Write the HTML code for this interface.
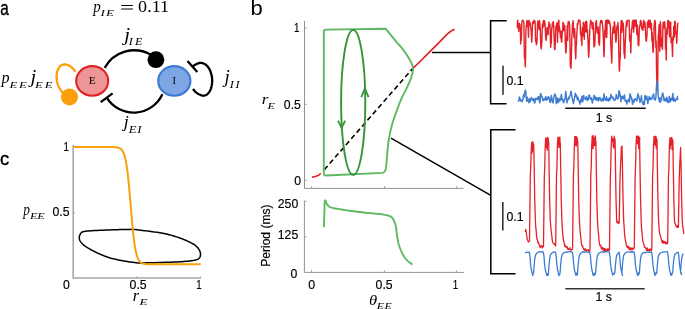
<!DOCTYPE html>
<html><head><meta charset="utf-8"><style>
html,body{margin:0;padding:0;background:#fff;overflow:hidden;}
svg{display:block;}
text{white-space:pre;}
</style></head><body>
<svg style="will-change:transform" width="685" height="309" viewBox="0 0 685 309">
<rect width="685" height="309" fill="#fff"/>
<text transform="translate(0.25,14.80) scale(0.771,1)" font-family="'Liberation Sans', sans-serif" font-size="19.91" fill="#000" stroke="#000" stroke-width="0.4">a</text>
<text transform="translate(250.57,14.69) scale(1.064,1)" font-family="'Liberation Sans', sans-serif" font-size="20.68" fill="#000">b</text>
<text transform="translate(0.12,164.91) scale(0.958,1)" font-family="'Liberation Sans', sans-serif" font-size="19.18" fill="#000" stroke="#000" stroke-width="0.4">c</text>
<text transform="translate(93.26,11.81) scale(0.913,1)" font-family="'Liberation Serif', serif" font-style="italic" font-size="16.41" fill="#000">p</text>
<text transform="translate(100.57,15.90) scale(1.450,1)" font-family="'Liberation Serif', serif" font-style="italic" font-size="9.16" fill="#000" letter-spacing="0.63">IE</text>
<path d="M121.2,5.5 H132.9 M121.2,9.0 H132.9" stroke="#000" stroke-width="1.0" fill="none" />
<text transform="translate(138.12,11.75) scale(1.098,1)" font-family="'Liberation Serif', serif" font-size="16.47" fill="#000">0.11</text>
<path d="M104.70,67.90 A33.63,33.63 0 0 1 150.50,54.50" stroke="#000" stroke-width="2.3" fill="none" />
<circle cx="155.9" cy="59.7" r="8.4" fill="#000"/>
<path d="M106.70,97.60 A31.68,31.68 0 0 0 162.40,94.20" stroke="#000" stroke-width="2.3" fill="none" />
<path d="M100.7,102.1 L112.6,93.3" stroke="#000" stroke-width="2.3" fill="none" />
<path d="M191.90,67.00 L192.26,66.76 L192.75,66.42 L193.33,66.01 L193.97,65.57 L194.65,65.12 L195.34,64.69 L195.99,64.30 L196.60,64.00 L197.16,63.75 L197.70,63.52 L198.24,63.31 L198.78,63.13 L199.31,62.99 L199.86,62.91 L200.42,62.87 L201.00,62.90 L201.61,62.98 L202.25,63.11 L202.91,63.29 L203.57,63.52 L204.23,63.80 L204.88,64.14 L205.51,64.54 L206.10,65.00 L206.67,65.53 L207.24,66.11 L207.80,66.76 L208.34,67.47 L208.86,68.23 L209.35,69.04 L209.79,69.90 L210.20,70.80 L210.57,71.78 L210.92,72.84 L211.24,73.96 L211.53,75.13 L211.78,76.32 L211.97,77.51 L212.12,78.68 L212.20,79.80 L212.22,80.91 L212.17,82.04 L212.06,83.17 L211.91,84.29 L211.72,85.38 L211.50,86.42 L211.26,87.40 L211.00,88.30 L210.72,89.13 L210.40,89.90 L210.06,90.62 L209.68,91.29 L209.28,91.91 L208.87,92.49 L208.44,93.02 L208.00,93.50 L207.54,93.94 L207.06,94.34 L206.56,94.69 L206.04,95.00 L205.51,95.26 L204.97,95.46 L204.43,95.61 L203.90,95.70 L203.36,95.72 L202.80,95.66 L202.24,95.55 L201.67,95.38 L201.10,95.18 L200.55,94.96 L200.01,94.73 L199.50,94.50 L199.01,94.27 L198.53,94.02 L198.07,93.76 L197.61,93.48 L197.17,93.18 L196.74,92.86 L196.32,92.54 L195.90,92.20 L195.48,91.82 L195.04,91.39 L194.60,90.93 L194.18,90.46 L193.78,90.01 L193.43,89.60 L193.13,89.25 L192.90,89.00" stroke="#000" stroke-width="2.3" fill="none" />
<path d="M187.5,61.1 L197.3,72.0" stroke="#000" stroke-width="2.3" fill="none" />
<path d="M75.60,71.80 L75.26,71.40 L74.82,70.86 L74.29,70.21 L73.71,69.50 L73.07,68.77 L72.41,68.06 L71.75,67.43 L71.10,66.90 L70.44,66.45 L69.74,66.04 L69.02,65.65 L68.28,65.31 L67.53,65.01 L66.80,64.77 L66.08,64.60 L65.40,64.50 L64.74,64.47 L64.08,64.50 L63.42,64.58 L62.79,64.73 L62.17,64.94 L61.58,65.20 L61.02,65.52 L60.50,65.90 L60.01,66.35 L59.54,66.88 L59.10,67.48 L58.69,68.14 L58.31,68.83 L57.97,69.55 L57.67,70.28 L57.40,71.00 L57.18,71.73 L56.99,72.49 L56.84,73.27 L56.73,74.07 L56.65,74.88 L56.61,75.71 L56.59,76.55 L56.60,77.40 L56.64,78.27 L56.71,79.16 L56.80,80.08 L56.93,81.00 L57.09,81.92 L57.29,82.84 L57.53,83.73 L57.80,84.60 L58.13,85.46 L58.53,86.34 L58.98,87.21 L59.46,88.06 L59.95,88.88 L60.43,89.66 L60.89,90.37 L61.30,91.00 L61.69,91.56 L62.09,92.06 L62.49,92.51 L62.87,92.90 L63.22,93.24 L63.53,93.54 L63.80,93.79 L64.00,94.00" stroke="#FBA00C" stroke-width="2.3" fill="none" />
<circle cx="69.5" cy="97.1" r="8.5" fill="#FBA00C"/>
<ellipse cx="92.2" cy="80.9" rx="16.0" ry="14.8" fill="#EE9598" stroke="#DE2327" stroke-width="2.1"/>
<ellipse cx="174.3" cy="80.9" rx="16.1" ry="14.8" fill="#7FA6E4" stroke="#3C79D2" stroke-width="2.1"/>
<text transform="translate(88.78,84.30) scale(1.154,1)" font-family="'Liberation Serif', serif" font-size="9.92" fill="#000">E</text>
<text transform="translate(172.54,83.90) scale(1.036,1)" font-family="'Liberation Serif', serif" font-size="9.92" fill="#000">I</text>
<text transform="translate(1.53,82.89) scale(0.924,1)" font-family="'Liberation Serif', serif" font-style="italic" font-size="17.44" fill="#000">p</text>
<text transform="translate(9.56,87.70) scale(1.500,1)" font-family="'Liberation Serif', serif" font-style="italic" font-size="8.55" fill="#000" letter-spacing="1.06">EE</text>
<text transform="translate(30.51,82.76) scale(1.138,1)" font-family="'Liberation Serif', serif" font-style="italic" font-size="18.06" fill="#000">j</text>
<text transform="translate(34.96,87.70) scale(1.500,1)" font-family="'Liberation Serif', serif" font-style="italic" font-size="8.55" fill="#000" letter-spacing="1.26">EE</text>
<text transform="translate(124.14,40.51) scale(1.139,1)" font-family="'Liberation Serif', serif" font-style="italic" font-size="18.29" fill="#000">j</text>
<text transform="translate(128.66,45.20) scale(1.300,1)" font-family="'Liberation Serif', serif" font-style="italic" font-size="9.31" fill="#000" letter-spacing="1.70">IE</text>
<text transform="translate(123.64,127.46) scale(1.026,1)" font-family="'Liberation Serif', serif" font-style="italic" font-size="17.60" fill="#000">j</text>
<text transform="translate(128.76,132.80) scale(1.300,1)" font-family="'Liberation Serif', serif" font-style="italic" font-size="9.77" fill="#000" letter-spacing="0.59">EI</text>
<text transform="translate(224.53,83.22) scale(1.008,1)" font-family="'Liberation Serif', serif" font-style="italic" font-size="18.74" fill="#000">j</text>
<text transform="translate(229.66,87.80) scale(1.300,1)" font-family="'Liberation Serif', serif" font-style="italic" font-size="9.47" fill="#000" letter-spacing="1.28">II</text>
<path d="M73.2,145.1 V278 H201" stroke="#A8A8A8" stroke-width="1.6" fill="none" />
<path d="M73.2,212.9 h1.8" stroke="#A8A8A8" stroke-width="1.0" fill="none" />
<path d="M136.8,278 v-1.8 M200.3,278 v-1.8" stroke="#A8A8A8" stroke-width="1.0" fill="none" />
<text transform="translate(63.41,150.60) scale(0.740,1)" font-family="'Liberation Sans', sans-serif" font-size="13.20" fill="#000" stroke="#000" stroke-width="0.18">1</text>
<text transform="translate(52.47,215.60) scale(0.930,1)" font-family="'Liberation Sans', sans-serif" font-size="13.20" fill="#000" stroke="#000" stroke-width="0.18">0.5</text>
<text transform="translate(62.93,289.20) scale(0.930,1)" font-family="'Liberation Sans', sans-serif" font-size="13.20" fill="#000" stroke="#000" stroke-width="0.18">0</text>
<text transform="translate(129.62,289.40) scale(0.930,1)" font-family="'Liberation Sans', sans-serif" font-size="13.20" fill="#000" stroke="#000" stroke-width="0.18">0.5</text>
<text transform="translate(196.26,289.20) scale(0.740,1)" font-family="'Liberation Sans', sans-serif" font-size="13.20" fill="#000" stroke="#000" stroke-width="0.18">1</text>
<text transform="translate(23.36,215.31) scale(0.809,1)" font-family="'Liberation Serif', serif" font-style="italic" font-size="16.41" fill="#000">p</text>
<text transform="translate(29.95,219.30) scale(1.500,1)" font-family="'Liberation Serif', serif" font-style="italic" font-size="8.24" fill="#000" letter-spacing="-0.17">EE</text>
<text transform="translate(132.64,301.20) scale(0.943,1)" font-family="'Liberation Serif', serif" font-style="italic" font-size="17.45" fill="#000">r</text>
<text transform="translate(139.46,304.70) scale(1.691,1)" font-family="'Liberation Serif', serif" font-style="italic" font-size="7.79" fill="#000">E</text>
<path d="M86.10,231.20 L86.83,231.11 L87.57,231.02 L88.35,230.95 L89.19,230.88 L90.13,230.81 L91.19,230.75 L92.41,230.68 L93.80,230.60 L95.43,230.52 L97.28,230.43 L99.31,230.33 L101.44,230.24 L103.64,230.14 L105.84,230.06 L107.97,229.97 L110.00,229.90 L111.97,229.83 L113.98,229.77 L115.98,229.71 L117.95,229.66 L119.87,229.61 L121.70,229.56 L123.42,229.53 L125.00,229.50 L126.38,229.47 L127.56,229.43 L128.61,229.40 L129.58,229.38 L130.54,229.37 L131.56,229.38 L132.69,229.42 L134.00,229.50 L135.50,229.62 L137.13,229.79 L138.85,229.98 L140.64,230.19 L142.46,230.42 L144.26,230.66 L146.02,230.88 L147.70,231.10 L149.32,231.30 L150.92,231.51 L152.50,231.71 L154.06,231.91 L155.60,232.12 L157.10,232.34 L158.57,232.56 L160.00,232.80 L161.38,233.04 L162.71,233.29 L163.99,233.54 L165.25,233.79 L166.50,234.07 L167.74,234.35 L169.01,234.66 L170.30,235.00 L171.64,235.37 L173.02,235.77 L174.42,236.20 L175.83,236.64 L177.20,237.09 L178.54,237.54 L179.81,237.98 L181.00,238.40 L182.10,238.81 L183.12,239.20 L184.09,239.60 L185.01,239.99 L185.90,240.38 L186.77,240.78 L187.63,241.18 L188.50,241.60 L189.38,242.02 L190.25,242.45 L191.11,242.88 L191.96,243.31 L192.77,243.76 L193.56,244.22 L194.30,244.70 L195.00,245.20 L195.65,245.73 L196.28,246.29 L196.87,246.87 L197.43,247.46 L197.94,248.06 L198.41,248.65 L198.83,249.24 L199.20,249.80 L199.52,250.35 L199.78,250.89 L200.00,251.42 L200.17,251.95 L200.31,252.47 L200.40,252.99 L200.47,253.50 L200.50,254.00 L200.51,254.51 L200.49,255.02 L200.43,255.52 L200.34,256.03 L200.21,256.51 L200.03,256.97 L199.79,257.40 L199.50,257.80 L199.19,258.15 L198.90,258.47 L198.57,258.76 L198.19,259.03 L197.70,259.28 L197.09,259.52 L196.30,259.76 L195.30,260.00 L194.11,260.24 L192.75,260.48 L191.24,260.71 L189.59,260.94 L187.81,261.15 L185.89,261.35 L183.85,261.53 L181.70,261.70 L179.34,261.85 L176.73,261.97 L173.94,262.08 L171.06,262.18 L168.14,262.27 L165.28,262.35 L162.54,262.43 L160.00,262.50 L157.60,262.57 L155.24,262.64 L152.94,262.71 L150.72,262.77 L148.61,262.82 L146.62,262.86 L144.78,262.89 L143.10,262.90 L141.72,262.92 L140.68,262.96 L139.86,262.99 L139.12,263.01 L138.36,263.00 L137.43,262.94 L136.22,262.81 L134.60,262.60 L132.50,262.30 L129.99,261.92 L127.21,261.48 L124.27,260.98 L121.29,260.45 L118.38,259.90 L115.68,259.35 L113.30,258.80 L111.20,258.25 L109.27,257.67 L107.46,257.07 L105.78,256.46 L104.18,255.84 L102.65,255.22 L101.16,254.61 L99.70,254.00 L98.27,253.39 L96.91,252.78 L95.61,252.16 L94.37,251.54 L93.19,250.93 L92.07,250.34 L91.00,249.76 L90.00,249.20 L89.07,248.67 L88.21,248.16 L87.41,247.67 L86.67,247.19 L85.98,246.72 L85.33,246.25 L84.71,245.78 L84.10,245.30 L83.51,244.81 L82.96,244.31 L82.44,243.81 L81.95,243.31 L81.50,242.81 L81.09,242.33 L80.72,241.85 L80.40,241.40 L80.13,240.97 L79.90,240.55 L79.72,240.15 L79.58,239.76 L79.47,239.38 L79.39,238.99 L79.34,238.60 L79.30,238.20 L79.28,237.79 L79.30,237.37 L79.33,236.94 L79.40,236.52 L79.49,236.10 L79.60,235.69 L79.74,235.28 L79.90,234.90 L80.08,234.52 L80.27,234.14 L80.49,233.77 L80.73,233.41 L81.00,233.06 L81.30,232.74 L81.63,232.45 L82.00,232.20 L82.39,231.99 L82.80,231.82 L83.23,231.68 L83.70,231.57 L84.21,231.47 L84.77,231.38 L85.40,231.29 L86.10,231.20Z" stroke="#000" stroke-width="1.5" fill="none" />
<path d="M73.30,147.00 L73.72,147.00 L74.15,147.00 L74.57,147.00 L74.99,147.00 L75.42,147.00 L75.84,147.00 L76.26,147.00 L76.69,147.00 L77.11,147.00 L77.53,147.00 L77.96,147.00 L78.38,147.00 L78.80,147.00 L79.23,147.00 L79.65,147.00 L80.07,147.00 L80.50,147.00 L80.92,147.00 L81.34,147.00 L81.77,147.00 L82.19,147.00 L82.61,147.00 L83.04,147.00 L83.46,147.00 L83.88,147.00 L84.31,147.00 L84.73,147.00 L85.15,147.00 L85.58,147.00 L86.00,147.00 L86.42,147.00 L86.85,147.00 L87.27,147.00 L87.69,147.00 L88.12,147.00 L88.54,147.00 L88.96,147.00 L89.39,147.00 L89.81,147.00 L90.23,147.00 L90.66,147.00 L91.08,147.00 L91.50,147.00 L91.93,147.00 L92.35,147.00 L92.77,147.00 L93.20,147.00 L93.62,147.00 L94.04,147.00 L94.47,147.00 L94.89,147.00 L95.31,147.00 L95.74,147.00 L96.16,147.00 L96.58,147.00 L97.01,147.00 L97.43,147.00 L97.85,147.00 L98.28,147.00 L98.70,147.00 L99.12,147.00 L99.55,147.00 L99.97,147.00 L100.39,147.00 L100.82,147.00 L101.24,147.00 L101.66,147.00 L102.09,147.00 L102.51,147.00 L102.93,147.00 L103.36,147.00 L103.78,147.00 L104.20,147.00 L104.63,147.00 L105.05,147.00 L105.47,147.00 L105.90,147.00 L106.32,147.01 L106.74,147.01 L107.17,147.01 L107.59,147.01 L108.01,147.01 L108.44,147.01 L108.86,147.02 L109.28,147.02 L109.71,147.02 L110.13,147.03 L110.55,147.03 L110.98,147.04 L111.40,147.04 L111.82,147.05 L112.25,147.06 L112.67,147.07 L113.09,147.09 L113.52,147.10 L113.94,147.12 L114.36,147.14 L114.79,147.17 L115.21,147.20 L115.63,147.24 L116.06,147.29 L116.48,147.34 L116.90,147.41 L117.33,147.48 L117.75,147.58 L118.17,147.68 L118.60,147.81 L119.02,147.97 L119.44,148.15 L119.87,148.36 L120.29,148.62 L120.71,148.92 L121.14,149.27 L121.56,149.70 L121.98,150.19 L122.41,150.78 L122.83,151.47 L123.25,152.28 L123.68,153.22 L124.10,154.33 L124.52,155.62 L124.95,157.11 L125.37,158.83 L125.79,160.81 L126.22,163.07 L126.64,165.64 L127.06,168.52 L127.49,171.74 L127.91,175.30 L128.33,179.19 L128.76,183.40 L129.18,187.90 L129.60,192.63 L130.03,197.56 L130.45,202.60 L130.87,207.69 L131.30,212.74 L131.72,217.70 L132.14,222.48 L132.57,227.02 L132.99,231.29 L133.41,235.25 L133.84,238.88 L134.26,242.16 L134.68,245.12 L135.11,247.74 L135.53,250.06 L135.95,252.09 L136.38,253.87 L136.80,255.40 L137.22,256.73 L137.65,257.87 L138.07,258.85 L138.49,259.68 L138.92,260.39 L139.34,261.00 L139.76,261.51 L140.19,261.95 L140.61,262.32 L141.03,262.63 L141.46,262.89 L141.88,263.12 L142.30,263.30 L142.73,263.46 L143.15,263.59 L143.57,263.71 L144.00,263.80 L144.42,263.88 L144.84,263.95 L145.27,264.00 L145.69,264.05 L146.11,264.09 L146.54,264.12 L146.96,264.15 L147.38,264.18 L147.81,264.20 L148.23,264.21 L148.65,264.23 L149.08,264.24 L149.50,264.25 L149.92,264.26 L150.35,264.26 L150.77,264.27 L151.19,264.28 L151.62,264.28 L152.04,264.28 L152.46,264.29 L152.89,264.29 L153.31,264.29 L153.73,264.29 L154.16,264.29 L154.58,264.30 L155.00,264.30 L155.43,264.30 L155.85,264.30 L156.27,264.30 L156.70,264.30 L157.12,264.30 L157.54,264.30 L157.97,264.30 L158.39,264.30 L158.81,264.30 L159.24,264.30 L159.66,264.30 L160.08,264.30 L160.51,264.30 L160.93,264.30 L161.35,264.30 L161.78,264.30 L162.20,264.30 L162.62,264.30 L163.05,264.30 L163.47,264.30 L163.89,264.30 L164.32,264.30 L164.74,264.30 L165.16,264.30 L165.59,264.30 L166.01,264.30 L166.43,264.30 L166.86,264.30 L167.28,264.30 L167.70,264.30 L168.13,264.30 L168.55,264.30 L168.97,264.30 L169.40,264.30 L169.82,264.30 L170.24,264.30 L170.67,264.30 L171.09,264.30 L171.51,264.30 L171.94,264.30 L172.36,264.30 L172.78,264.30 L173.21,264.30 L173.63,264.30 L174.05,264.30 L174.48,264.30 L174.90,264.30 L175.32,264.30 L175.75,264.30 L176.17,264.30 L176.59,264.30 L177.02,264.30 L177.44,264.30 L177.86,264.30 L178.29,264.30 L178.71,264.30 L179.13,264.30 L179.56,264.30 L179.98,264.30 L180.40,264.30 L180.83,264.30 L181.25,264.30 L181.67,264.30 L182.10,264.30 L182.52,264.30 L182.94,264.30 L183.37,264.30 L183.79,264.30 L184.21,264.30 L184.64,264.30 L185.06,264.30 L185.48,264.30 L185.91,264.30 L186.33,264.30 L186.75,264.30 L187.18,264.30 L187.60,264.30 L188.02,264.30 L188.45,264.30 L188.87,264.30 L189.29,264.30 L189.72,264.30 L190.14,264.30 L190.56,264.30 L190.99,264.30 L191.41,264.30 L191.83,264.30 L192.26,264.30 L192.68,264.30 L193.10,264.30 L193.53,264.30 L193.95,264.30 L194.37,264.30 L194.80,264.30 L195.22,264.30 L195.64,264.30 L196.07,264.30 L196.49,264.30 L196.91,264.30 L197.34,264.30 L197.76,264.30 L198.18,264.30 L198.61,264.30 L199.03,264.30 L199.45,264.30 L199.88,264.30 L200.30,264.30 L200.72,264.30" stroke="#FBA00C" stroke-width="2.0" fill="none" />
<path d="M304.5,20.9 V188.4 H463.6" stroke="#939393" stroke-width="1.0" fill="none" />
<path d="M304.5,28.2 h2.2 M304.5,104.3 h2.2 M304.5,180.3 h2.2" stroke="#939393" stroke-width="0.9" fill="none" />
<path d="M311.6,188.4 v-2.2 M384.5,188.4 v-2.2 M456.6,188.4 v-2.2" stroke="#939393" stroke-width="0.9" fill="none" />
<text transform="translate(294.11,31.90) scale(0.740,1)" font-family="'Liberation Sans', sans-serif" font-size="13.20" fill="#000" stroke="#000" stroke-width="0.18">1</text>
<text transform="translate(283.87,108.60) scale(0.930,1)" font-family="'Liberation Sans', sans-serif" font-size="13.20" fill="#000" stroke="#000" stroke-width="0.18">0.5</text>
<text transform="translate(294.13,185.30) scale(0.930,1)" font-family="'Liberation Sans', sans-serif" font-size="13.20" fill="#000" stroke="#000" stroke-width="0.18">0</text>
<text transform="translate(261.64,103.90) scale(1.120,1)" font-family="'Liberation Serif', serif" font-style="italic" font-size="15.32" fill="#000">r</text>
<text transform="translate(267.55,108.80) scale(1.394,1)" font-family="'Liberation Serif', serif" font-style="italic" font-size="8.85" fill="#000">E</text>
<path d="M311.90,177.20 L312.18,177.14 L312.56,177.07 L313.01,176.98 L313.51,176.88 L314.04,176.76 L314.56,176.65 L315.05,176.52 L315.50,176.40 L315.91,176.27 L316.31,176.14 L316.70,176.01 L317.08,175.86 L317.45,175.71 L317.81,175.55 L318.16,175.38 L318.50,175.20 L318.84,174.99 L319.18,174.75 L319.51,174.49 L319.84,174.22 L320.14,173.97 L320.40,173.74 L320.63,173.54 L320.80,173.40" stroke="#E5222A" stroke-width="1.6" fill="none" />
<path d="M324.3,169.7 L412.6,68.6" stroke="#000" stroke-width="1.6" fill="none" stroke-dasharray="5 3.2"/>
<path d="M323.8,173.6 L323.8,31.6 Q323.8,29.6 325.8,29.6 L385.7,28.7 L386.63,29.85 L387.92,31.44 L389.44,33.33 L391.10,35.37 L392.79,37.44 L394.40,39.40 L396.00,41.30 L397.69,43.26 L399.40,45.24 L401.08,47.22 L402.67,49.15 L404.10,51.00 L405.39,52.79 L406.59,54.55 L407.69,56.26 L408.70,57.92 L409.60,59.50 L410.40,61.00 L411.10,62.36 L411.70,63.60 L412.21,64.76 L412.60,65.90 L412.86,67.10 L413.00,68.40 L412.99,69.80 L412.83,71.25 L412.54,72.75 L412.16,74.29 L411.71,75.88 L411.20,77.50 L410.61,79.18 L409.93,80.93 L409.16,82.72 L408.35,84.53 L407.52,86.33 L406.70,88.10 L405.86,89.85 L404.97,91.60 L404.06,93.34 L403.16,95.07 L402.30,96.79 L401.50,98.50 L400.79,100.13 L400.16,101.66 L399.56,103.18 L398.96,104.77 L398.32,106.52 L397.60,108.50 L396.76,110.78 L395.83,113.32 L394.85,116.01 L393.89,118.75 L392.98,121.45 L392.20,124.00 L391.53,126.46 L390.93,128.93 L390.39,131.35 L389.91,133.68 L389.48,135.88 L389.10,137.90 L388.79,139.66 L388.56,141.17 L388.38,142.55 L388.22,143.91 L388.07,145.35 L387.90,147.00 L387.71,148.92 L387.51,151.03 L387.32,153.24 L387.13,155.42 L386.96,157.48 L386.80,159.30 L386.65,160.94 L386.51,162.49 L386.38,163.92 L386.27,165.17 L386.17,166.22 L386.10,167.00 Q385.6,172.2 382.5,172.9 L326.0,175.5 Q323.8,175.6 323.8,173.6 Z" stroke="#5DB85F" stroke-width="1.9" fill="none" stroke-linejoin="round"/>
<ellipse cx="353.2" cy="102.4" rx="12.1" ry="72.4" fill="none" stroke="#33953A" stroke-width="1.9"/>
<path d="M361.3,97.2 L364.9,88.4 L368.5,97.2" stroke="#33953A" stroke-width="1.8" fill="none" stroke-linejoin="miter"/>
<path d="M338.0,120.6 L341.6,128.0 L345.2,120.6" stroke="#33953A" stroke-width="1.8" fill="none" stroke-linejoin="miter"/>
<path d="M413.40,68.00 L414.18,67.24 L415.22,66.22 L416.47,65.00 L417.84,63.66 L419.28,62.25 L420.72,60.84 L422.08,59.50 L423.30,58.30 L424.40,57.21 L425.45,56.16 L426.47,55.15 L427.46,54.15 L428.44,53.17 L429.42,52.19 L430.40,51.20 L431.40,50.20 L432.41,49.19 L433.43,48.18 L434.44,47.17 L435.46,46.16 L436.47,45.14 L437.48,44.13 L438.49,43.12 L439.50,42.10 L440.53,41.04 L441.60,39.94 L442.68,38.80 L443.76,37.68 L444.80,36.60 L445.78,35.59 L446.69,34.68 L447.50,33.90 L448.20,33.27 L448.80,32.75 L449.33,32.34 L449.81,31.99 L450.24,31.70 L450.66,31.44 L451.07,31.18 L451.50,30.90 L451.95,30.61 L452.41,30.34 L452.86,30.09 L453.30,29.86 L453.70,29.66 L454.06,29.47 L454.37,29.32 L454.60,29.20" stroke="#E5222A" stroke-width="1.7" fill="none" />
<path d="M304.4,200.7 V272.4 H464.0" stroke="#939393" stroke-width="1.0" fill="none" />
<path d="M304.4,201.2 h2.2 M304.4,236.8 h2.2" stroke="#939393" stroke-width="0.9" fill="none" />
<path d="M311.6,272.4 v-2.2 M384.4,272.4 v-2.2 M456.4,272.4 v-2.2" stroke="#939393" stroke-width="0.9" fill="none" />
<text transform="translate(277.74,208.20) scale(0.930,1)" font-family="'Liberation Sans', sans-serif" font-size="13.20" fill="#000" stroke="#000" stroke-width="0.18">250</text>
<text transform="translate(277.75,238.80) scale(0.930,1)" font-family="'Liberation Sans', sans-serif" font-size="13.20" fill="#000" stroke="#000" stroke-width="0.18">125</text>
<text transform="translate(290.48,277.80) scale(0.930,1)" font-family="'Liberation Sans', sans-serif" font-size="13.20" fill="#000" stroke="#000" stroke-width="0.18">0</text>
<text transform="translate(308.28,289.10) scale(0.930,1)" font-family="'Liberation Sans', sans-serif" font-size="13.20" fill="#000" stroke="#000" stroke-width="0.18">0</text>
<text transform="translate(375.62,289.10) scale(0.930,1)" font-family="'Liberation Sans', sans-serif" font-size="13.20" fill="#000" stroke="#000" stroke-width="0.18">0.5</text>
<text transform="translate(452.66,289.10) scale(0.740,1)" font-family="'Liberation Sans', sans-serif" font-size="13.20" fill="#000" stroke="#000" stroke-width="0.18">1</text>
<text transform="translate(269.79,266.79) rotate(-90) scale(0.995,1)" font-family="'Liberation Sans', sans-serif" font-size="12.12" fill="#000" stroke="#000" stroke-width="0.18">Period (ms)</text>
<text transform="translate(369.11,304.75) scale(1.106,1)" font-family="'Liberation Serif', serif" font-style="italic" font-size="15.07" fill="#000">θ</text>
<text transform="translate(376.85,308.60) scale(1.450,1)" font-family="'Liberation Serif', serif" font-style="italic" font-size="8.24" fill="#000" letter-spacing="0.17">EE</text>
<path d="M323.90,227.30 L323.94,226.09 L323.99,224.46 L324.05,222.51 L324.11,220.36 L324.18,218.12 L324.26,215.90 L324.33,213.83 L324.40,212.00 L324.45,210.29 L324.49,208.52 L324.52,206.76 L324.55,205.09 L324.60,203.58 L324.69,202.30 L324.81,201.31 L325.00,200.70 L325.24,200.55 L325.52,200.82 L325.83,201.43 L326.18,202.24 L326.56,203.17 L326.98,204.09 L327.43,204.90 L327.90,205.50 L328.35,205.91 L328.76,206.27 L329.17,206.57 L329.62,206.84 L330.17,207.10 L330.85,207.35 L331.71,207.61 L332.80,207.90 L334.14,208.21 L335.71,208.53 L337.46,208.85 L339.34,209.17 L341.32,209.49 L343.33,209.80 L345.34,210.11 L347.30,210.40 L349.28,210.69 L351.35,210.98 L353.47,211.26 L355.60,211.54 L357.71,211.80 L359.75,212.05 L361.70,212.29 L363.50,212.50 L365.18,212.69 L366.78,212.86 L368.31,213.01 L369.76,213.14 L371.13,213.27 L372.43,213.38 L373.65,213.49 L374.80,213.60 L375.82,213.69 L376.70,213.75 L377.47,213.79 L378.19,213.83 L378.88,213.88 L379.60,213.95 L380.40,214.05 L381.30,214.20 L382.35,214.39 L383.53,214.60 L384.77,214.83 L386.04,215.09 L387.29,215.37 L388.46,215.69 L389.52,216.03 L390.40,216.40 L391.11,216.80 L391.68,217.21 L392.15,217.65 L392.53,218.12 L392.86,218.62 L393.17,219.17 L393.47,219.76 L393.80,220.40 L394.14,221.09 L394.46,221.83 L394.76,222.61 L395.04,223.43 L395.31,224.29 L395.56,225.19 L395.79,226.13 L396.00,227.10 L396.18,228.12 L396.33,229.21 L396.46,230.34 L396.57,231.51 L396.68,232.69 L396.79,233.88 L396.93,235.05 L397.10,236.20 L397.29,237.33 L397.47,238.45 L397.67,239.58 L397.88,240.70 L398.11,241.82 L398.37,242.95 L398.67,244.07 L399.00,245.20 L399.38,246.35 L399.80,247.53 L400.26,248.73 L400.74,249.92 L401.24,251.09 L401.76,252.22 L402.28,253.30 L402.80,254.30 L403.32,255.24 L403.86,256.13 L404.41,256.97 L404.96,257.78 L405.53,258.54 L406.11,259.26 L406.70,259.95 L407.30,260.60 L407.95,261.23 L408.67,261.84 L409.43,262.41 L410.18,262.94 L410.90,263.43 L411.55,263.86 L412.09,264.22 L412.50,264.50" stroke="#5DB85F" stroke-width="1.9" fill="none" />
<path d="M432.0,52.6 H490.6" stroke="#000" stroke-width="1.5" fill="none" />
<path d="M391.0,138.2 L490.8,195.3" stroke="#000" stroke-width="1.5" fill="none" />
<path d="M506.7,20.7 H490.6 V103.7 H506.5" stroke="#000" stroke-width="1.5" fill="none" />
<path d="M515.5,129.8 H490.8 V273.8 H515.5" stroke="#000" stroke-width="1.5" fill="none" />
<path d="M503.0,65.8 V94.7" stroke="#333" stroke-width="1.6" fill="none" />
<path d="M502.8,202.1 V230.6" stroke="#333" stroke-width="1.6" fill="none" />
<path d="M565.2,108.3 H645.8" stroke="#111" stroke-width="1.6" fill="none" />
<path d="M565.3,288.8 H644.7" stroke="#333" stroke-width="1.6" fill="none" />
<text transform="translate(506.41,84.60) scale(0.930,1)" font-family="'Liberation Sans', sans-serif" font-size="13.20" fill="#000" stroke="#000" stroke-width="0.18">0.1</text>
<text transform="translate(506.41,220.90) scale(0.930,1)" font-family="'Liberation Sans', sans-serif" font-size="13.20" fill="#000" stroke="#000" stroke-width="0.18">0.1</text>
<text transform="translate(595.71,122.20) scale(0.930,1)" font-family="'Liberation Sans', sans-serif" font-size="13.20" fill="#000" stroke="#000" stroke-width="0.18">1 s</text>
<text transform="translate(595.56,301.30) scale(0.930,1)" font-family="'Liberation Sans', sans-serif" font-size="13.20" fill="#000" stroke="#000" stroke-width="0.18">1 s</text>
<path d="M517.30,27.79 L517.50,21.76 L517.70,20.31 L517.90,22.76 L518.10,28.53 L518.30,27.70 L518.50,26.76 L518.70,31.41 L518.90,23.95 L519.10,23.72 L519.30,23.56 L519.50,23.55 L519.70,25.92 L519.90,24.42 L520.10,26.30 L520.30,28.85 L520.50,36.95 L520.70,44.03 L520.90,33.97 L521.10,33.98 L521.30,40.43 L521.50,34.06 L521.70,24.73 L521.90,22.34 L522.10,21.20 L522.30,20.62 L522.50,20.30 L522.70,20.10 L522.90,20.08 L523.10,20.66 L523.30,21.01 L523.50,21.05 L523.70,21.97 L523.90,24.46 L524.10,36.43 L524.30,52.42 L524.50,58.75 L524.70,55.95 L524.90,57.74 L525.10,64.60 L525.30,66.76 L525.50,60.81 L525.70,46.42 L525.90,30.83 L526.10,26.28 L526.30,25.72 L526.50,24.66 L526.70,21.73 L526.90,20.48 L527.10,20.58 L527.30,26.66 L527.50,25.02 L527.70,21.11 L527.90,22.77 L528.10,26.48 L528.30,32.92 L528.50,37.25 L528.70,24.51 L528.90,20.37 L529.10,20.61 L529.30,21.34 L529.50,23.95 L529.70,25.20 L529.90,23.72 L530.10,22.71 L530.30,24.02 L530.50,25.41 L530.70,28.09 L530.90,28.91 L531.10,30.93 L531.30,33.86 L531.50,36.40 L531.70,42.24 L531.90,40.28 L532.10,34.31 L532.30,28.56 L532.50,23.68 L532.70,21.88 L532.90,22.40 L533.10,23.17 L533.30,23.78 L533.50,21.66 L533.70,21.04 L533.90,20.64 L534.10,20.35 L534.30,21.22 L534.50,22.75 L534.70,21.02 L534.90,21.05 L535.10,22.47 L535.30,28.56 L535.50,38.69 L535.70,41.36 L535.90,38.56 L536.10,39.89 L536.30,44.81 L536.50,44.47 L536.70,42.16 L536.90,43.03 L537.10,39.53 L537.30,30.21 L537.50,24.19 L537.70,22.07 L537.90,21.00 L538.10,21.33 L538.30,24.75 L538.50,27.79 L538.70,25.31 L538.90,26.21 L539.10,29.75 L539.30,21.03 L539.50,20.60 L539.70,21.68 L539.90,25.00 L540.10,26.70 L540.30,29.79 L540.50,35.45 L540.70,44.96 L540.90,46.54 L541.10,48.60 L541.30,48.77 L541.50,45.91 L541.70,42.79 L541.90,41.67 L542.10,32.41 L542.30,26.76 L542.50,23.99 L542.70,23.97 L542.90,27.64 L543.10,25.88 L543.30,21.24 L543.50,20.45 L543.70,21.86 L543.90,25.64 L544.10,23.38 L544.30,20.79 L544.50,20.78 L544.70,22.08 L544.90,22.82 L545.10,25.02 L545.30,28.60 L545.50,33.76 L545.70,37.37 L545.90,39.37 L546.10,40.30 L546.30,38.95 L546.50,35.97 L546.70,32.26 L546.90,28.97 L547.10,27.59 L547.30,27.57 L547.50,30.87 L547.70,32.70 L547.90,34.17 L548.10,34.64 L548.30,29.81 L548.50,26.73 L548.70,26.58 L548.90,21.84 L549.10,22.60 L549.30,25.94 L549.50,25.15 L549.70,24.94 L549.90,24.22 L550.10,26.92 L550.30,34.65 L550.50,43.89 L550.70,47.26 L550.90,43.95 L551.10,43.47 L551.30,43.02 L551.50,35.72 L551.70,29.52 L551.90,26.97 L552.10,27.97 L552.30,23.42 L552.50,23.11 L552.70,23.92 L552.90,24.63 L553.10,21.94 L553.30,21.62 L553.50,22.94 L553.70,26.54 L553.90,33.13 L554.10,36.44 L554.30,44.07 L554.50,47.69 L554.70,49.59 L554.90,49.48 L555.10,47.06 L555.30,41.73 L555.50,35.28 L555.70,29.77 L555.90,25.96 L556.10,26.83 L556.30,25.62 L556.50,25.91 L556.70,24.26 L556.90,22.88 L557.10,22.63 L557.30,30.99 L557.50,42.41 L557.70,35.69 L557.90,26.41 L558.10,24.19 L558.30,29.92 L558.50,26.87 L558.70,20.20 L558.90,20.45 L559.10,30.96 L559.30,30.71 L559.50,26.45 L559.70,29.27 L559.90,33.07 L560.10,31.03 L560.30,31.30 L560.50,37.87 L560.70,31.80 L560.90,31.18 L561.10,35.38 L561.30,39.55 L561.50,41.91 L561.70,42.15 L561.90,38.87 L562.10,34.95 L562.30,30.81 L562.50,31.97 L562.70,29.11 L562.90,23.04 L563.10,22.36 L563.30,25.71 L563.50,23.12 L563.70,23.86 L563.90,30.46 L564.10,27.02 L564.30,26.04 L564.50,25.56 L564.70,25.68 L564.90,28.46 L565.10,34.22 L565.30,43.19 L565.50,47.34 L565.70,51.59 L565.90,53.00 L566.10,51.47 L566.30,46.69 L566.50,40.24 L566.70,37.10 L566.90,34.61 L567.10,30.60 L567.30,25.68 L567.50,33.08 L567.70,40.41 L567.90,28.53 L568.10,22.07 L568.30,23.38 L568.50,23.37 L568.70,21.90 L568.90,21.39 L569.10,21.76 L569.30,23.46 L569.50,24.14 L569.70,27.41 L569.90,36.24 L570.10,50.32 L570.30,66.33 L570.50,63.71 L570.70,65.66 L570.90,68.40 L571.10,66.52 L571.30,58.60 L571.50,49.57 L571.70,43.91 L571.90,35.40 L572.10,33.93 L572.30,27.25 L572.50,23.58 L572.70,27.89 L572.90,22.91 L573.10,20.67 L573.30,23.44 L573.50,31.86 L573.70,33.35 L573.90,35.64 L574.10,37.67 L574.30,31.71 L574.50,28.59 L574.70,29.06 L574.90,33.88 L575.10,42.09 L575.30,52.17 L575.50,53.21 L575.70,58.70 L575.90,55.51 L576.10,47.71 L576.30,44.72 L576.50,44.56 L576.70,34.46 L576.90,32.78 L577.10,30.21 L577.30,23.67 L577.50,24.97 L577.70,25.29 L577.90,23.08 L578.10,23.52 L578.30,21.35 L578.50,20.29 L578.70,20.25 L578.90,21.13 L579.10,20.89 L579.30,20.26 L579.50,20.12 L579.70,20.23 L579.90,20.80 L580.10,23.33 L580.30,25.66 L580.50,33.44 L580.70,34.75 L580.90,32.29 L581.10,34.93 L581.30,41.02 L581.50,38.30 L581.70,41.53 L581.90,45.45 L582.10,33.76 L582.30,27.69 L582.50,27.26 L582.70,33.66 L582.90,36.03 L583.10,27.29 L583.30,22.16 L583.50,23.04 L583.70,24.71 L583.90,25.99 L584.10,30.24 L584.30,39.19 L584.50,32.84 L584.70,30.63 L584.90,26.64 L585.10,24.67 L585.30,23.04 L585.50,21.68 L585.70,22.72 L585.90,31.46 L586.10,31.98 L586.30,25.91 L586.50,21.30 L586.70,21.62 L586.90,25.05 L587.10,31.01 L587.30,31.83 L587.50,29.85 L587.70,37.43 L587.90,38.80 L588.10,42.90 L588.30,49.69 L588.50,55.40 L588.70,57.30 L588.90,54.99 L589.10,50.06 L589.30,44.01 L589.50,37.46 L589.70,32.10 L589.90,26.77 L590.10,26.32 L590.30,24.58 L590.50,21.43 L590.70,20.31 L590.90,20.82 L591.10,23.62 L591.30,24.15 L591.50,22.17 L591.70,24.01 L591.90,23.33 L592.10,28.14 L592.30,27.06 L592.50,25.39 L592.70,29.18 L592.90,22.52 L593.10,22.85 L593.30,27.26 L593.50,32.51 L593.70,37.56 L593.90,44.12 L594.10,46.95 L594.30,46.16 L594.50,46.10 L594.70,45.53 L594.90,43.31 L595.10,36.22 L595.30,30.73 L595.50,26.41 L595.70,23.50 L595.90,21.86 L596.10,21.82 L596.30,20.54 L596.50,20.98 L596.70,26.62 L596.90,30.20 L597.10,32.18 L597.30,33.04 L597.50,31.40 L597.70,30.00 L597.90,27.15 L598.10,26.91 L598.30,29.96 L598.50,35.73 L598.70,43.29 L598.90,39.93 L599.10,39.34 L599.30,39.92 L599.50,45.22 L599.70,37.60 L599.90,27.21 L600.10,24.70 L600.30,22.97 L600.50,21.27 L600.70,20.49 L600.90,21.55 L601.10,22.58 L601.30,22.19 L601.50,21.03 L601.70,20.66 L601.90,21.78 L602.10,21.39 L602.30,21.96 L602.50,25.26 L602.70,26.11 L602.90,28.51 L603.10,34.27 L603.30,36.92 L603.50,41.63 L603.70,49.71 L603.90,55.08 L604.10,56.76 L604.30,51.22 L604.50,36.11 L604.70,30.25 L604.90,37.70 L605.10,36.70 L605.30,27.33 L605.50,24.31 L605.70,20.90 L605.90,20.42 L606.10,24.24 L606.30,27.09 L606.50,29.36 L606.70,37.48 L606.90,33.50 L607.10,21.18 L607.30,20.05 L607.50,20.03 L607.70,20.36 L607.90,21.55 L608.10,22.97 L608.30,21.90 L608.50,20.57 L608.70,20.23 L608.90,20.34 L609.10,23.22 L609.30,23.47 L609.50,22.91 L609.70,21.82 L609.90,23.39 L610.10,25.88 L610.30,25.18 L610.50,29.95 L610.70,44.51 L610.90,46.48 L611.10,49.58 L611.30,53.13 L611.50,56.82 L611.70,62.98 L611.90,58.65 L612.10,45.99 L612.30,37.89 L612.50,32.79 L612.70,33.87 L612.90,29.15 L613.10,27.02 L613.30,30.04 L613.50,28.94 L613.70,29.90 L613.90,32.70 L614.10,27.22 L614.30,21.58 L614.50,22.21 L614.70,23.15 L614.90,25.57 L615.10,29.26 L615.30,33.51 L615.50,37.78 L615.70,40.98 L615.90,42.20 L616.10,41.34 L616.30,38.68 L616.50,33.87 L616.70,29.30 L616.90,26.43 L617.10,29.21 L617.30,25.26 L617.50,26.07 L617.70,27.47 L617.90,22.45 L618.10,24.96 L618.30,29.64 L618.50,36.90 L618.70,46.32 L618.90,57.14 L619.10,66.02 L619.30,70.99 L619.50,71.12 L619.70,65.91 L619.90,59.80 L620.10,57.71 L620.30,56.29 L620.50,42.77 L620.70,29.62 L620.90,25.97 L621.10,22.89 L621.30,20.63 L621.50,20.47 L621.70,27.76 L621.90,32.24 L622.10,23.21 L622.30,21.04 L622.50,22.32 L622.70,29.56 L622.90,29.47 L623.10,22.88 L623.30,23.90 L623.50,27.53 L623.70,35.39 L623.90,47.55 L624.10,54.02 L624.30,53.07 L624.50,55.51 L624.70,58.41 L624.90,56.39 L625.10,47.67 L625.30,41.33 L625.50,38.06 L625.70,34.86 L625.90,29.53 L626.10,26.71 L626.30,23.07 L626.50,21.42 L626.70,23.94 L626.90,26.53 L627.10,24.66 L627.30,20.51 L627.50,20.37 L627.70,20.53 L627.90,20.14 L628.10,20.34 L628.30,20.66 L628.50,20.60 L628.70,20.25 L628.90,20.27 L629.10,21.11 L629.30,26.37 L629.50,35.89 L629.70,40.93 L629.90,39.06 L630.10,35.28 L630.30,36.91 L630.50,42.31 L630.70,52.90 L630.90,50.86 L631.10,41.57 L631.30,34.13 L631.50,29.78 L631.70,27.94 L631.90,28.49 L632.10,26.87 L632.30,22.21 L632.50,21.57 L632.70,25.18 L632.90,20.33 L633.10,20.06 L633.30,24.91 L633.50,32.24 L633.70,29.37 L633.90,29.44 L634.10,24.80 L634.30,21.04 L634.50,20.56 L634.70,20.17 L634.90,20.15 L635.10,20.40 L635.30,23.13 L635.50,26.19 L635.70,22.45 L635.90,20.57 L636.10,20.05 L636.30,20.18 L636.50,24.33 L636.70,32.53 L636.90,34.55 L637.10,28.36 L637.30,24.92 L637.50,28.22 L637.70,32.78 L637.90,38.07 L638.10,44.03 L638.30,45.75 L638.50,45.54 L638.70,45.57 L638.90,43.61 L639.10,35.72 L639.30,29.41 L639.50,26.59 L639.70,25.83 L639.90,26.35 L640.10,25.91 L640.30,21.46 L640.50,20.25 L640.70,20.68 L640.90,22.28 L641.10,21.85 L641.30,21.76 L641.50,22.83 L641.70,28.92 L641.90,28.44 L642.10,26.57 L642.30,29.05 L642.50,29.15 L642.70,27.87 L642.90,30.33 L643.10,29.20 L643.30,24.82 L643.50,21.40 L643.70,20.52 L643.90,21.56 L644.10,22.12 L644.30,22.44 L644.50,27.15 L644.70,23.63 L644.90,22.36 L645.10,24.44 L645.30,28.24 L645.50,31.87 L645.70,35.50 L645.90,38.99 L646.10,40.91 L646.30,41.28 L646.50,40.54 L646.70,36.99 L646.90,36.32 L647.10,32.18 L647.30,24.22 L647.50,22.08 L647.70,24.24 L647.90,26.96 L648.10,20.92 L648.30,21.34 L648.50,21.17 L648.70,20.16 L648.90,20.87 L649.10,27.53 L649.30,26.92 L649.50,26.09 L649.70,26.30 L649.90,20.72 L650.10,20.26 L650.30,22.72 L650.50,22.15 L650.70,23.84 L650.90,29.57 L651.10,27.44 L651.30,23.67 L651.50,23.71 L651.70,32.95 L651.90,40.79 L652.10,32.15 L652.30,34.98 L652.50,41.35 L652.70,46.52 L652.90,50.50 L653.10,52.41 L653.30,51.19 L653.50,46.43 L653.70,42.75 L653.90,37.16 L654.10,27.30 L654.30,24.69 L654.50,22.92 L654.70,20.75 L654.90,20.39 L655.10,20.73 L655.30,22.65 L655.50,29.82 L655.70,38.59 L655.90,47.47 L656.10,40.81 L656.30,47.89 L656.50,67.44 L656.70,77.07 L656.90,82.30 L657.10,84.10 L657.30,84.42 L657.50,90.28 L657.70,84.11 L657.90,61.17 L658.10,42.90 L658.30,34.95 L658.50,33.75 L658.70,31.97 L658.90,28.53 L659.10,24.62 L659.30,30.94 L659.50,44.36 L659.70,51.24 L659.90,40.19 L660.10,27.41 L660.30,21.71 L660.50,22.69 L660.70,24.95 L660.90,32.15 L661.10,46.60 L661.30,37.81 L661.50,38.72 L661.70,40.20 L661.90,40.54 L662.10,41.16 L662.30,49.26 L662.50,49.22 L662.70,39.22 L662.90,26.39 L663.10,23.01 L663.30,22.18 L663.50,23.89 L663.70,23.33 L663.90,28.02 L664.10,27.69 L664.30,22.66 L664.50,21.66 L664.70,23.00 L664.90,24.59 L665.10,27.93 L665.30,33.51 L665.50,49.24 L665.70,48.51 L665.90,46.67 L666.10,54.90 L666.30,60.05 L666.50,42.40 L666.70,32.54 L666.90,28.11 L667.10,28.20 L667.30,34.06 L667.50,26.52 L667.70,21.39 L667.90,20.37 L668.10,20.58 L668.30,25.98 L668.50,27.85 L668.70,22.99 L668.90,20.83 L669.10,23.64 L669.30,30.63 L669.50,36.88 L669.70,33.41 L669.90,25.73 L670.10,24.96 L670.30,24.66 L670.50,22.12 L670.70,22.38 L670.90,33.38 L671.10,42.85 L671.30,39.39 L671.50,40.76 L671.70,38.03 L671.90,40.69 L672.10,45.79 L672.30,50.53 L672.50,56.50 L672.70,48.57 L672.90,39.39 L673.10,36.27 L673.30,40.09 L673.50,36.98 L673.70,26.10 L673.90,26.21 L674.10,33.98 L674.30,36.95 L674.50,32.54 L674.70,22.11 L674.90,21.14 L675.10,22.06 L675.30,22.05 L675.50,26.69 L675.70,33.99 L675.90,31.21 L676.10,31.80 L676.30,35.52 L676.50,39.42 L676.70,43.20 L676.90,41.23 L677.10,35.59 L677.30,31.53 L677.50,27.81 L677.70,24.76 L677.90,22.65" stroke="#E5222A" stroke-width="1.4" fill="none" stroke-linejoin="round"/>
<path d="M518.10,101.82 L518.40,101.01 L518.70,100.80 L519.00,99.40 L519.30,97.00 L519.60,97.01 L519.90,100.07 L520.20,100.88 L520.50,99.68 L520.80,99.25 L521.10,100.42 L521.40,101.09 L521.70,100.89 L522.00,101.71 L522.30,101.32 L522.60,99.90 L522.90,99.95 L523.20,96.80 L523.50,94.91 L523.80,97.22 L524.10,97.05 L524.40,96.24 L524.70,91.69 L525.00,91.01 L525.30,90.20 L525.60,90.44 L525.90,92.45 L526.20,97.89 L526.50,99.09 L526.80,101.35 L527.10,99.43 L527.40,97.09 L527.70,98.48 L528.00,101.09 L528.30,99.87 L528.60,100.66 L528.90,102.91 L529.20,101.92 L529.50,98.82 L529.80,99.72 L530.10,101.79 L530.40,100.37 L530.70,100.87 L531.00,99.50 L531.30,97.53 L531.60,98.54 L531.90,98.51 L532.20,98.77 L532.50,98.75 L532.80,100.27 L533.10,100.65 L533.40,100.64 L533.70,98.59 L534.00,99.65 L534.30,102.28 L534.60,103.15 L534.90,102.56 L535.20,100.80 L535.50,98.32 L535.80,98.79 L536.10,99.17 L536.40,98.80 L536.70,98.76 L537.00,98.33 L537.30,99.47 L537.60,98.58 L537.90,97.03 L538.20,97.37 L538.50,99.82 L538.80,97.78 L539.10,96.40 L539.40,97.73 L539.70,102.87 L540.00,102.67 L540.30,96.97 L540.60,93.48 L540.90,93.96 L541.20,94.74 L541.50,95.86 L541.80,97.08 L542.10,96.64 L542.40,98.24 L542.70,100.10 L543.00,100.68 L543.30,100.21 L543.60,99.01 L543.90,99.57 L544.20,99.99 L544.50,98.55 L544.80,99.97 L545.10,99.58 L545.40,99.03 L545.70,96.47 L546.00,97.69 L546.30,98.45 L546.60,100.00 L546.90,98.85 L547.20,98.10 L547.50,99.68 L547.80,98.02 L548.10,96.63 L548.40,96.71 L548.70,97.05 L549.00,97.34 L549.30,98.47 L549.60,100.99 L549.90,101.99 L550.20,102.44 L550.50,102.36 L550.80,99.75 L551.10,97.00 L551.40,95.40 L551.70,96.78 L552.00,99.32 L552.30,101.06 L552.60,100.41 L552.90,102.86 L553.20,102.82 L553.50,99.40 L553.80,97.61 L554.10,96.79 L554.40,94.84 L554.70,93.83 L555.00,95.14 L555.30,96.02 L555.60,94.86 L555.90,99.37 L556.20,103.09 L556.50,103.69 L556.80,102.34 L557.10,97.87 L557.40,98.24 L557.70,102.06 L558.00,102.38 L558.30,102.49 L558.60,101.46 L558.90,100.43 L559.20,98.32 L559.50,98.95 L559.80,101.03 L560.10,100.48 L560.40,99.91 L560.70,99.70 L561.00,96.58 L561.30,94.34 L561.60,95.40 L561.90,98.05 L562.20,100.21 L562.50,98.81 L562.80,100.33 L563.10,101.53 L563.40,102.45 L563.70,102.79 L564.00,101.28 L564.30,100.56 L564.60,98.62 L564.90,99.46 L565.20,97.64 L565.50,93.37 L565.80,91.43 L566.10,94.28 L566.40,97.68 L566.70,102.46 L567.00,102.91 L567.30,99.58 L567.60,100.49 L567.90,99.97 L568.20,98.62 L568.50,97.28 L568.80,98.34 L569.10,98.82 L569.40,97.35 L569.70,96.88 L570.00,95.67 L570.30,95.32 L570.60,93.09 L570.90,91.49 L571.20,91.43 L571.50,93.07 L571.80,96.19 L572.10,97.26 L572.40,99.35 L572.70,99.84 L573.00,101.26 L573.30,103.73 L573.60,102.76 L573.90,101.08 L574.20,98.93 L574.50,98.16 L574.80,97.00 L575.10,94.34 L575.40,93.29 L575.70,95.32 L576.00,96.62 L576.30,95.00 L576.60,96.26 L576.90,97.46 L577.20,99.54 L577.50,99.48 L577.80,97.12 L578.10,97.36 L578.40,99.93 L578.70,100.66 L579.00,101.00 L579.30,101.61 L579.60,102.81 L579.90,104.22 L580.20,101.81 L580.50,99.72 L580.80,99.82 L581.10,102.08 L581.40,101.17 L581.70,97.86 L582.00,96.27 L582.30,97.39 L582.60,100.83 L582.90,101.77 L583.20,99.14 L583.50,95.36 L583.80,95.71 L584.10,98.35 L584.40,98.81 L584.70,98.69 L585.00,98.34 L585.30,98.46 L585.60,99.46 L585.90,98.41 L586.20,96.49 L586.50,97.90 L586.80,99.44 L587.10,99.28 L587.40,100.55 L587.70,100.17 L588.00,97.56 L588.30,99.80 L588.60,96.26 L588.90,95.09 L589.20,95.86 L589.50,95.09 L589.80,97.28 L590.10,98.56 L590.40,98.71 L590.70,99.40 L591.00,98.86 L591.30,98.52 L591.60,97.69 L591.90,100.49 L592.20,102.86 L592.50,102.95 L592.80,100.04 L593.10,99.82 L593.40,99.36 L593.70,98.68 L594.00,95.38 L594.30,95.35 L594.60,97.67 L594.90,99.08 L595.20,96.83 L595.50,98.85 L595.80,99.75 L596.10,99.74 L596.40,98.14 L596.70,97.78 L597.00,100.24 L597.30,98.81 L597.60,98.52 L597.90,97.89 L598.20,99.58 L598.50,100.99 L598.80,99.41 L599.10,97.63 L599.40,98.20 L599.70,98.47 L600.00,97.41 L600.30,99.55 L600.60,100.05 L600.90,99.82 L601.20,100.97 L601.50,101.09 L601.80,100.01 L602.10,98.89 L602.40,98.41 L602.70,99.95 L603.00,101.16 L603.30,99.56 L603.60,97.39 L603.90,93.96 L604.20,93.97 L604.50,97.29 L604.80,98.50 L605.10,100.41 L605.40,99.73 L605.70,99.61 L606.00,100.09 L606.30,98.10 L606.60,96.78 L606.90,100.44 L607.20,100.43 L607.50,100.07 L607.80,98.93 L608.10,98.86 L608.40,99.90 L608.70,101.18 L609.00,100.05 L609.30,97.96 L609.60,99.82 L609.90,99.98 L610.20,99.38 L610.50,98.20 L610.80,94.38 L611.10,95.04 L611.40,95.72 L611.70,96.71 L612.00,97.50 L612.30,97.79 L612.60,97.03 L612.90,98.66 L613.20,97.54 L613.50,98.34 L613.80,99.30 L614.10,100.35 L614.40,99.97 L614.70,100.31 L615.00,99.98 L615.30,99.02 L615.60,99.59 L615.90,97.76 L616.20,94.56 L616.50,95.06 L616.80,96.64 L617.10,97.97 L617.40,98.49 L617.70,98.99 L618.00,97.99 L618.30,98.07 L618.60,95.33 L618.90,91.02 L619.20,90.69 L619.50,91.34 L619.80,94.51 L620.10,96.53 L620.40,94.88 L620.70,97.88 L621.00,101.58 L621.30,99.19 L621.60,98.66 L621.90,96.72 L622.20,97.90 L622.50,97.95 L622.80,96.31 L623.10,96.76 L623.40,98.93 L623.70,98.61 L624.00,98.13 L624.30,94.93 L624.60,95.12 L624.90,98.94 L625.20,101.11 L625.50,100.47 L625.80,100.18 L626.10,100.55 L626.40,101.38 L626.70,104.10 L627.00,102.63 L627.30,100.35 L627.60,101.54 L627.90,100.29 L628.20,100.07 L628.50,99.98 L628.80,98.87 L629.10,101.11 L629.40,102.11 L629.70,96.90 L630.00,93.78 L630.30,94.54 L630.60,95.65 L630.90,97.05 L631.20,96.79 L631.50,99.33 L631.80,98.11 L632.10,100.54 L632.40,104.20 L632.70,104.15 L633.00,102.52 L633.30,100.73 L633.60,99.99 L633.90,99.96 L634.20,102.02 L634.50,100.03 L634.80,98.99 L635.10,99.31 L635.40,99.11 L635.70,98.66 L636.00,99.08 L636.30,99.61 L636.60,100.97 L636.90,100.91 L637.20,99.01 L637.50,96.38 L637.80,93.56 L638.10,95.28 L638.40,95.30 L638.70,95.89 L639.00,98.38 L639.30,97.96 L639.60,99.58 L639.90,102.50 L640.20,102.00 L640.50,100.08 L640.80,99.03 L641.10,97.70 L641.40,95.63 L641.70,99.34 L642.00,101.17 L642.30,102.71 L642.60,102.64 L642.90,103.14 L643.20,104.76 L643.50,102.50 L643.80,101.27 L644.10,102.52 L644.40,104.43 L644.70,100.22 L645.00,95.39 L645.30,97.29 L645.60,98.92 L645.90,99.46 L646.20,98.12 L646.50,96.30 L646.80,96.19 L647.10,98.35 L647.40,101.03 L647.70,103.44 L648.00,103.09 L648.30,99.91 L648.60,98.77 L648.90,97.94 L649.20,96.33 L649.50,99.44 L649.80,98.58 L650.10,98.36 L650.40,97.68 L650.70,99.05 L651.00,99.47 L651.30,98.57 L651.60,99.31 L651.90,98.96 L652.20,98.32 L652.50,95.92 L652.80,95.69 L653.10,95.96 L653.40,94.35 L653.70,93.90 L654.00,97.75 L654.30,99.37 L654.60,99.46 L654.90,98.50 L655.20,100.22 L655.50,100.02 L655.80,97.75 L656.10,94.24 L656.40,86.95 L656.70,83.61 L657.00,81.74 L657.30,81.47 L657.60,84.79 L657.90,90.36 L658.20,95.76 L658.50,97.51 L658.80,98.91 L659.10,100.06 L659.40,101.72 L659.70,98.75 L660.00,97.61 L660.30,100.37 L660.60,102.29 L660.90,99.57 L661.20,99.10 L661.50,100.02 L661.80,96.83 L662.10,95.09 L662.40,93.60 L662.70,92.97 L663.00,94.48 L663.30,94.98 L663.60,97.39 L663.90,100.58 L664.20,98.47 L664.50,98.34 L664.80,100.51 L665.10,100.20 L665.40,100.91 L665.70,99.67 L666.00,98.87 L666.30,100.98 L666.60,99.75 L666.90,97.15 L667.20,98.11 L667.50,102.15 L667.80,100.69 L668.10,101.06 L668.40,101.73 L668.70,102.54 L669.00,101.29 L669.30,96.30 L669.60,97.48 L669.90,100.27 L670.20,101.86 L670.50,99.34 L670.80,98.38 L671.10,99.27 L671.40,98.28 L671.70,99.39 L672.00,100.72 L672.30,99.23 L672.60,94.74 L672.90,93.43 L673.20,97.19 L673.50,99.58 L673.80,100.95 L674.10,98.37 L674.40,99.34 L674.70,99.17 L675.00,100.27 L675.30,101.35 L675.60,100.48 L675.90,99.87 L676.20,99.89 L676.50,98.66 L676.80,98.71 L677.10,99.17 L677.40,96.46 L677.70,100.03" stroke="#3D7CD0" stroke-width="1.4" fill="none" stroke-linejoin="round"/>
<path d="M525.20,232.00 L525.80,229.50 L526.50,234.00 L527.30,239.50 L528.40,242.00 L529.50,241.00 L530.30,176.08 L530.70,168.00 L531.20,150.58 L531.70,142.43 L532.02,153.02 L532.34,142.76 L532.66,150.87 L532.98,141.54 L533.30,150.89 L533.62,144.33 L533.80,148.90 L534.15,165.00 L534.75,200.00 L535.40,221.00 L535.80,227.94 L536.20,230.70 L536.60,236.85 L537.00,239.52 L537.40,239.44 L537.80,242.57 L538.20,241.87 L538.60,243.13 L539.00,244.51 L539.40,244.56 L539.80,246.92 L540.20,247.44 L540.60,246.18 L541.00,246.29 L541.40,245.77 L541.80,245.80 L542.20,247.90 L542.60,247.60 L543.00,245.91 L543.50,246.50 L544.30,177.88 L544.70,168.00 L545.20,146.91 L545.70,138.00 L546.02,147.76 L546.34,138.11 L546.66,146.27 L546.98,139.15 L547.30,150.18 L547.62,137.31 L547.94,143.46 L548.26,138.69 L548.58,141.87 L548.70,141.76 L549.05,165.00 L549.65,200.00 L550.30,221.00 L550.70,225.48 L551.10,230.76 L551.50,233.39 L551.90,236.72 L552.30,240.34 L552.70,242.25 L553.10,243.07 L553.50,243.24 L553.90,244.10 L554.30,243.82 L554.70,243.61 L555.10,244.78 L555.50,245.96 L555.70,245.00 L556.50,175.38 L556.90,168.00 L557.40,144.78 L557.90,137.24 L558.22,143.40 L558.54,137.80 L558.86,147.31 L559.18,138.50 L559.50,144.30 L559.82,136.78 L560.14,147.96 L560.30,142.76 L560.65,165.00 L561.25,200.00 L561.90,221.00 L562.30,228.04 L562.70,233.57 L563.10,236.87 L563.50,240.83 L563.90,241.09 L564.30,244.11 L564.70,246.11 L565.10,245.15 L565.50,246.82 L565.90,246.62 L566.30,247.39 L566.70,246.50 L567.10,246.59 L567.50,249.16 L567.90,248.34 L568.30,249.00 L568.70,249.47 L569.10,248.51 L569.50,248.40 L569.90,247.81 L570.30,249.84 L570.70,249.99 L571.10,249.69 L571.50,250.15 L571.90,249.44 L572.30,249.60 L572.60,248.00 L573.40,176.16 L573.80,168.00 L574.30,147.77 L574.80,136.37 L575.12,144.64 L575.44,136.66 L575.76,145.81 L576.08,137.68 L576.40,145.88 L576.72,136.65 L577.04,142.66 L577.36,138.23 L577.68,143.42 L577.80,141.45 L578.15,165.00 L578.75,200.00 L579.40,221.00 L579.80,226.48 L580.20,232.35 L580.60,235.64 L581.00,239.52 L581.40,243.03 L581.80,245.66 L582.20,245.92 L582.60,245.83 L583.00,247.87 L583.40,248.39 L583.80,249.50 L584.20,248.93 L584.60,250.41 L585.00,249.04 L585.40,248.78 L585.80,249.65 L586.20,251.04 L586.60,250.48 L587.00,249.80 L587.40,249.85 L587.80,250.37 L588.20,249.75 L588.60,250.10 L589.00,251.46 L589.40,251.35 L589.80,251.06 L590.00,249.00 L590.80,175.76 L591.20,168.00 L591.70,146.33 L592.20,135.83 L592.52,148.31 L592.84,136.04 L593.16,148.48 L593.48,135.82 L593.80,143.88 L594.12,137.98 L594.44,145.46 L594.76,137.90 L595.08,144.95 L595.40,135.78 L595.72,146.52 L595.90,141.19 L596.25,165.00 L596.85,200.00 L597.50,221.00 L597.90,227.81 L598.30,231.82 L598.70,235.83 L599.10,241.39 L599.50,243.82 L599.90,245.64 L600.30,245.06 L600.70,245.11 L601.10,247.54 L601.50,248.74 L601.90,248.93 L602.30,247.39 L602.70,248.24 L603.10,249.97 L603.50,248.05 L603.90,250.70 L604.30,251.25 L604.70,248.95 L605.10,248.39 L605.50,251.40 L605.90,250.75 L606.30,249.77 L606.70,249.87 L607.10,251.28 L607.50,249.50 L607.90,248.54 L608.30,250.34 L608.70,249.38 L609.10,250.57 L609.50,249.00 L610.30,180.69 L610.70,168.00 L611.20,146.14 L611.70,136.19 L612.02,141.18 L612.34,138.19 L612.66,141.41 L612.98,138.56 L613.30,147.06 L613.62,138.43 L613.94,148.03 L614.26,136.27 L614.58,142.28 L614.90,138.58 L615.10,140.86 L615.45,165.00 L616.05,200.00 L616.70,221.00 L617.10,222.63 L617.50,221.19 L617.90,222.01 L618.30,223.52 L618.70,222.40 L619.20,223.00 L620.00,179.51 L620.40,168.00 L620.90,158.52 L621.40,146.64 L621.72,153.69 L622.04,146.08 L622.10,151.69 L622.45,165.00 L623.05,200.00 L623.70,221.00 L624.10,226.16 L624.50,232.81 L624.90,237.02 L625.30,239.58 L625.70,241.95 L626.10,243.67 L626.50,245.96 L626.90,245.78 L627.30,247.62 L627.70,246.58 L628.10,246.36 L628.50,246.97 L628.90,249.06 L629.30,247.47 L629.70,249.36 L630.10,249.90 L630.50,248.84 L630.90,247.63 L631.30,249.22 L631.70,248.48 L632.10,250.20 L632.50,248.04 L632.90,248.09 L633.30,248.90 L633.70,248.94 L634.10,247.97 L634.30,248.00 L635.10,177.25 L635.50,168.00 L636.00,146.77 L636.50,136.04 L636.82,140.64 L637.14,136.35 L637.46,143.84 L637.78,136.44 L638.10,140.31 L638.42,135.92 L638.74,148.65 L639.06,137.75 L639.38,148.57 L639.70,137.38 L639.60,140.84 L639.95,165.00 L640.55,200.00 L641.20,221.00 L641.60,229.19 L642.00,232.35 L642.40,237.27 L642.80,240.30 L643.20,242.17 L643.60,243.35 L644.00,244.97 L644.40,247.02 L644.80,246.68 L645.20,247.49 L645.60,247.99 L646.00,248.26 L646.40,250.15 L646.80,249.45 L647.20,247.93 L647.60,250.37 L648.00,249.70 L648.40,250.65 L648.80,249.80 L649.20,249.25 L649.60,250.98 L650.00,248.87 L650.40,249.23 L650.80,249.90 L651.20,251.11 L651.60,248.74 L651.80,249.00 L652.60,177.03 L653.00,168.00 L653.50,146.23 L654.00,136.46 L654.32,141.05 L654.64,137.37 L654.96,145.11 L655.28,136.65 L655.60,143.53 L655.92,136.04 L656.24,148.11 L656.56,138.08 L656.88,141.68 L657.00,139.95 L657.35,165.00 L657.95,200.00 L658.60,221.00 L659.00,226.80 L659.40,231.15 L659.80,234.42 L660.20,235.12 L660.60,236.64 L661.00,237.59 L661.40,239.62 L661.80,241.04 L662.20,242.65 L662.60,240.44 L663.00,240.99 L663.40,243.07 L663.80,243.35 L664.20,241.76 L664.60,241.80 L665.00,241.67 L665.40,243.73 L665.80,242.61 L666.20,242.53 L666.60,243.92 L667.00,242.20 L667.40,243.55 L667.70,242.50 L668.50,175.55 L668.90,168.00 L669.40,145.86 L669.90,137.94 L670.22,148.72 L670.54,137.99 L670.86,145.22 L671.18,138.70 L671.50,142.28 L671.82,137.43 L672.14,149.75 L672.46,139.45 L672.78,141.95 L672.90,140.61 L673.25,165.00 L673.85,200.00 L674.50,221.00 L674.90,223.50 L675.30,223.74 L675.70,225.69 L676.10,226.05 L676.50,225.99 L676.90,227.26 L677.30,227.25 L677.70,225.62 L678.10,227.26 L678.40,227.00 L679.20,180.29 L679.60,168.00 L680.10,158.12 L680.60,147.31 L680.70,152.49 L681.05,165.00 L681.65,200.00 L682.30,221.00 L682.70,226.46 L683.10,228.19 L683.50,231.12 L683.90,233.88" stroke="#E5222A" stroke-width="1.3" fill="none" stroke-linejoin="round"/>
<path d="M525.20,253.10 L526.50,252.30 L529.30,252.20 L530.00,256.50 L530.60,264.50 L531.30,269.50 L532.10,272.80 L532.70,275.49 L533.15,273.56 L533.60,272.50 L534.10,265.50 L534.80,258.50 L535.50,255.20 L536.50,253.60 L537.80,252.60 L539.00,251.67 L540.20,251.77 L541.40,251.94 L542.60,251.60 L543.30,252.20 L544.00,256.50 L544.60,264.50 L545.30,269.50 L546.10,272.80 L546.70,275.25 L547.15,275.29 L547.60,273.63 L548.05,275.47 L548.50,272.50 L549.00,265.50 L549.70,258.50 L550.40,255.20 L551.40,253.60 L552.70,252.60 L553.90,251.92 L555.10,252.04 L555.50,252.20 L556.20,256.50 L556.80,264.50 L557.50,269.50 L558.30,272.80 L558.90,275.67 L559.35,274.73 L559.80,274.12 L560.10,272.50 L560.60,265.50 L561.30,258.50 L562.00,255.20 L563.00,253.60 L564.30,252.60 L565.50,252.25 L566.70,251.97 L567.90,252.22 L569.10,251.72 L570.30,251.58 L571.50,252.10 L572.40,252.20 L573.10,256.50 L573.70,264.50 L574.40,269.50 L575.20,272.80 L575.80,275.13 L576.25,273.98 L576.70,272.95 L577.15,275.40 L577.60,272.50 L578.10,265.50 L578.80,258.50 L579.50,255.20 L580.50,253.60 L581.80,252.60 L583.00,251.61 L584.20,252.47 L585.40,251.82 L586.60,251.78 L587.80,252.44 L589.00,252.46 L589.80,252.20 L590.50,256.50 L591.10,264.50 L591.80,269.50 L592.60,272.80 L593.20,275.34 L593.65,275.47 L594.10,273.12 L594.55,275.17 L595.00,274.45 L595.45,273.49 L595.70,272.50 L596.20,265.50 L596.90,258.50 L597.60,255.20 L598.60,253.60 L599.90,252.60 L601.10,252.10 L602.30,251.61 L603.50,252.29 L604.70,252.14 L605.90,251.61 L607.10,251.72 L608.30,251.79 L609.30,252.20 L610.00,256.50 L610.60,264.50 L611.30,269.50 L612.10,272.80 L612.70,275.07 L613.15,273.29 L613.60,273.49 L614.05,274.25 L614.50,273.04 L614.90,272.50 L615.40,265.50 L616.10,258.50 L616.80,255.20 L617.80,253.60 L619.10,252.60 L619.00,252.20 L619.70,256.50 L620.30,264.50 L621.00,269.50 L621.80,272.80 L622.40,275.40 L621.90,272.50 L622.40,265.50 L623.10,258.50 L623.80,255.20 L624.80,253.60 L626.10,252.60 L627.30,251.95 L628.50,251.91 L629.70,252.07 L630.90,251.66 L632.10,252.39 L633.30,251.62 L634.10,252.20 L634.80,256.50 L635.40,264.50 L636.10,269.50 L636.90,272.80 L637.50,275.16 L637.95,275.49 L638.40,273.02 L638.85,274.70 L639.40,272.50 L639.90,265.50 L640.60,258.50 L641.30,255.20 L642.30,253.60 L643.60,252.60 L644.80,252.48 L646.00,252.50 L647.20,251.85 L648.40,252.13 L649.60,252.44 L650.80,252.12 L651.60,252.20 L652.30,256.50 L652.90,264.50 L653.60,269.50 L654.40,272.80 L655.00,275.55 L655.45,274.69 L655.90,272.71 L656.35,273.64 L656.80,272.50 L657.30,265.50 L658.00,258.50 L658.70,255.20 L659.70,253.60 L661.00,252.60 L662.20,252.39 L663.40,251.97 L664.60,251.93 L665.80,251.80 L667.00,251.66 L667.50,252.20 L668.20,256.50 L668.80,264.50 L669.50,269.50 L670.30,272.80 L670.90,275.30 L671.35,273.79 L671.80,275.25 L672.25,272.73 L672.70,272.50 L673.20,265.50 L673.90,258.50 L674.60,255.20 L675.60,253.60 L676.90,252.60 L678.10,252.37 L678.20,252.20 L678.90,256.50 L679.50,264.50 L680.20,269.50 L681.00,272.80 L681.60,274.61 L680.50,272.50 L681.00,265.50 L681.70,258.50 L682.40,255.20 L683.40,253.60" stroke="#3D7CD0" stroke-width="1.3" fill="none" stroke-linejoin="round"/>
</svg>
</body></html>
